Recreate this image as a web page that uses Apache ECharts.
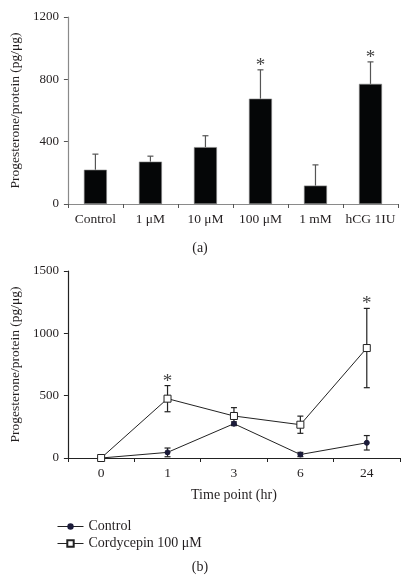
<!DOCTYPE html>
<html>
<head>
<meta charset="utf-8">
<script src="https://cdn.jsdelivr.net/npm/echarts@6/dist/echarts.min.js"></script>
<style>
html,body{margin:0;padding:0;background:#fff;}
#chart{width:412px;height:578px;}
</style>
</head>
<body>
<div id="chart"></div>
<script>
// ---- Panel (a) data ----
const doseCategories = ['Control', '1 \u03bcM', '10 \u03bcM', '100 \u03bcM', '1 mM', 'hCG 1IU'];
const doseValues = [220, 272, 365, 676, 118, 771];
const doseErrors = [100, 35, 73, 185, 133, 141];
const doseSignificant = [3, 5];
const doseTicks = [0, 400, 800, 1200];

// ---- Panel (b) data ----
const timeCategories = ['0', '1', '3', '6', '24'];
const controlValues = [0, 45, 275, 28, 122];
const controlErrors = [0, 35, 15, 17, 58];
const cordyValues = [0, 476, 337, 267, 882];
const cordyErrors = [0, 105, 67, 69, 318];
const cordySignificant = [1, 4];
const timeTicks = [0, 500, 1000, 1500];

const FONT = '"Liberation Serif", "DejaVu Serif", serif';
const TXT = '#231f20';

const chart = echarts.init(document.getElementById('chart'), null, {renderer: 'canvas'});

function errorBarItem(upOnly, color, capHalf) {
  return function (params, api) {
    const i = api.value(0), v = api.value(1), e = api.value(2);
    if (!e) return null;
    const top = api.coord([i, v + e]);
    const mid = api.coord([i, v]);
    const bot = upOnly ? mid : api.coord([i, v - e]);
    const style = {stroke: color, lineWidth: 1.2};
    const children = [
      {type: 'line', shape: {x1: top[0], y1: top[1], x2: bot[0], y2: bot[1]}, style: style},
      {type: 'line', shape: {x1: top[0] - capHalf, y1: top[1], x2: top[0] + capHalf, y2: top[1]}, style: style}
    ];
    if (!upOnly) {
      children.push({type: 'line', shape: {x1: bot[0] - capHalf, y1: bot[1], x2: bot[0] + capHalf, y2: bot[1]}, style: style});
    }
    return {type: 'group', children: children};
  };
}

function starItem(params, api) {
  const p = api.coord([api.value(0), api.value(1)]);
  return {
    type: 'text',
    style: {text: '*', x: p[0], y: p[1] - 4, align: 'center', verticalAlign: 'middle',
            font: '19px ' + FONT, fill: '#444'}
  };
}

const axisTextStyle = {color: TXT, fontFamily: FONT};
const plainNum = v => String(v);

const option = {
  animation: false,
  backgroundColor: '#fff',
  textStyle: {fontFamily: FONT, color: TXT},
  grid: [
    {left: 57, top: 17, width: 341, height: 187},
    {left: 60, top: 271, width: 340, height: 187}
  ],
  xAxis: [
    {
      gridIndex: 0, type: 'category', data: doseCategories, boundaryGap: true,
      axisLine: {lineStyle: {color: '#8a8a8a', width: 1.2}},
      axisTick: {show: true, length: 4, lineStyle: {color: '#555'}},
      axisLabel: Object.assign({fontSize: 13.5, margin: 8, interval: 0}, axisTextStyle)
    },
    {
      gridIndex: 1, type: 'category', data: timeCategories, boundaryGap: true,
      axisLine: {lineStyle: {color: '#222', width: 1.2}},
      axisTick: {show: true, length: 4, lineStyle: {color: '#222'}},
      axisLabel: Object.assign({fontSize: 13.5, margin: 8, interval: 0}, axisTextStyle),
      name: 'Time point (hr)', nameLocation: 'middle', nameGap: 30,
      nameTextStyle: Object.assign({fontSize: 14}, axisTextStyle)
    }
  ],
  yAxis: [
    {
      gridIndex: 0, type: 'value', min: doseTicks[0], max: doseTicks[doseTicks.length - 1],
      interval: doseTicks[1] - doseTicks[0],
      splitLine: {show: false},
      axisLine: {show: true, lineStyle: {color: '#8a8a8a', width: 1.2}},
      axisTick: {show: true, length: 4, lineStyle: {color: '#555'}},
      axisLabel: Object.assign({fontSize: 13, margin: 9, formatter: plainNum}, axisTextStyle),
      name: 'Progesterone/protein (pg/\u03bcg)', nameLocation: 'middle', nameGap: 35, nameRotate: 90,
      nameTextStyle: Object.assign({fontSize: 13.5}, axisTextStyle)
    },
    {
      gridIndex: 1, type: 'value', min: timeTicks[0], max: timeTicks[timeTicks.length - 1],
      interval: timeTicks[1] - timeTicks[0],
      splitLine: {show: false},
      axisLine: {show: true, lineStyle: {color: '#222', width: 1.2}},
      axisTick: {show: true, length: 4, lineStyle: {color: '#222'}},
      axisLabel: Object.assign({fontSize: 13, margin: 9, formatter: plainNum}, axisTextStyle),
      name: 'Progesterone/protein (pg/\u03bcg)', nameLocation: 'middle', nameGap: 39, nameRotate: 90,
      nameTextStyle: Object.assign({fontSize: 13.5}, axisTextStyle)
    }
  ],
  legend: {
    orient: 'vertical', left: 57, top: 518, itemGap: 0, padding: 0,
    itemWidth: 26, itemHeight: 8,
    lineStyle: {width: 1},
    textStyle: {fontSize: 14, lineHeight: 17, fontFamily: FONT, color: TXT},
    data: ['Control', 'Cordycepin 100 \u03bcM']
  },
  graphic: [
    {type: 'text', x: 200, y: 248, style: {text: '(a)', align: 'center', verticalAlign: 'middle', font: '14px ' + FONT, fill: TXT}},
    {type: 'text', x: 200, y: 567, style: {text: '(b)', align: 'center', verticalAlign: 'middle', font: '14px ' + FONT, fill: TXT}}
  ],
  series: [
    {
      type: 'bar', xAxisIndex: 0, yAxisIndex: 0, data: doseValues, barWidth: 23,
      itemStyle: {color: '#050607', borderColor: '#888', borderWidth: 0.6}
    },
    {
      type: 'custom', xAxisIndex: 0, yAxisIndex: 0, z: 3,
      renderItem: errorBarItem(true, '#555', 3),
      data: doseValues.map((v, i) => [i, v, doseErrors[i]])
    },
    {
      type: 'custom', xAxisIndex: 0, yAxisIndex: 0, z: 3,
      renderItem: starItem,
      data: doseSignificant.map(i => [i, doseValues[i] + doseErrors[i]])
    },
    {
      name: 'Control', type: 'line', xAxisIndex: 1, yAxisIndex: 1, data: controlValues,
      symbol: 'circle', symbolSize: 5,
      lineStyle: {color: '#222', width: 1},
      itemStyle: {color: '#1b1b3a', borderColor: '#1b1b3a'},
      z: 2
    },
    {
      type: 'custom', xAxisIndex: 1, yAxisIndex: 1, z: 1,
      renderItem: errorBarItem(false, '#222', 3),
      data: controlValues.map((v, i) => [i, v, controlErrors[i]])
    },
    {
      type: 'custom', xAxisIndex: 1, yAxisIndex: 1, z: 1,
      renderItem: errorBarItem(false, '#222', 3),
      data: cordyValues.map((v, i) => [i, v, cordyErrors[i]])
    },
    {
      name: 'Cordycepin 100 \u03bcM', type: 'line', xAxisIndex: 1, yAxisIndex: 1, data: cordyValues,
      symbol: 'rect', symbolSize: 7,
      lineStyle: {color: '#222', width: 1},
      itemStyle: {color: '#fff', borderColor: '#222', borderWidth: 1},
      z: 4
    },
    {
      type: 'custom', xAxisIndex: 1, yAxisIndex: 1, z: 5,
      renderItem: starItem,
      data: cordySignificant.map(i => [i, cordyValues[i] + cordyErrors[i]])
    }
  ]
};

chart.setOption(option);
</script>
</body>
</html>
